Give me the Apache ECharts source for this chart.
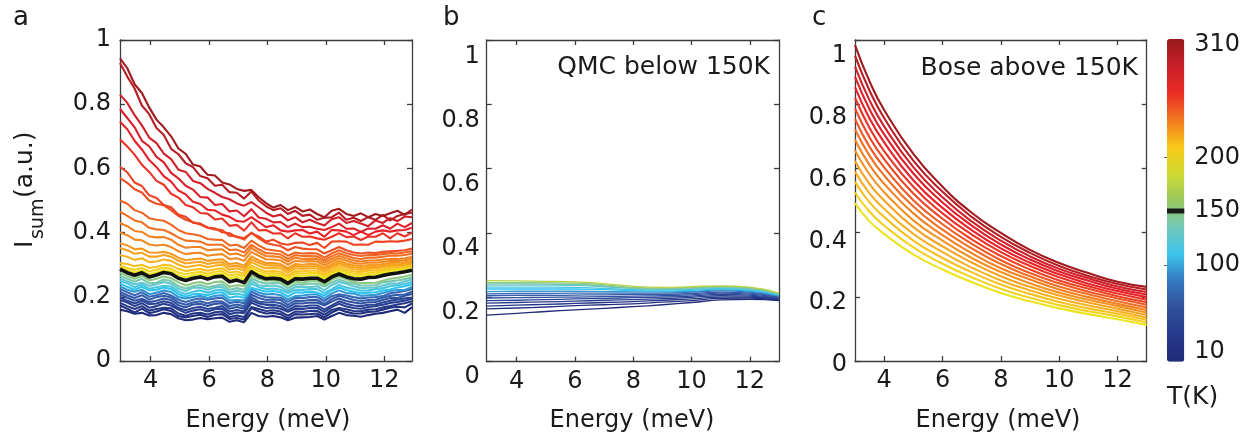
<!DOCTYPE html>
<html><head><meta charset="utf-8">
<script src="https://cdn.jsdelivr.net/npm/echarts@6/dist/echarts.min.js"></script>
<style>html,body{margin:0;padding:0;background:#fff}#c{width:1256px;height:442px}</style>
</head><body><div id="c"></div>
<script>
// ---------- data ----------
const energyA = [2.95,3.2,3.45,3.7,3.95,4.2,4.45,4.7,4.95,5.2,5.45,5.7,5.95,6.2,6.45,6.7,6.95,7.2,7.45,7.7,7.95,8.2,8.45,8.7,8.95,9.2,9.45,9.7,9.95,10.2,10.45,10.7,10.95,11.2,11.45,11.7,11.95,12.2,12.45,12.7,12.95];
const energyB = [2.97,4,5,6,7,8,9,10,11,12,13];
const energyC = [3,3.5,4,5,6,7,8,9,10,11,12,13];
const energyTicks = [4,6,8,10,12];
const tempTicks = [10,100,150,200,310];
const boundaryTemp = 150;

// panel a : measured I_sum, one array per temperature (K)
const a10  = [.160,.155,.147,.150,.142,.143,.150,.146,.133,.127,.129,.134,.130,.133,.135,.122,.127,.121,.150,.140,.138,.140,.136,.127,.135,.136,.137,.140,.129,.140,.150,.143,.141,.138,.143,.147,.150,.155,.160,.150,.168];
const a20  = [.173,.163,.151,.163,.149,.154,.161,.156,.140,.136,.140,.144,.137,.144,.146,.131,.134,.129,.165,.154,.148,.150,.146,.133,.146,.145,.146,.148,.136,.151,.161,.153,.148,.148,.153,.154,.160,.166,.169,.167,.179];
const a30  = [.181,.171,.162,.171,.157,.162,.166,.164,.148,.141,.148,.150,.145,.152,.154,.137,.142,.137,.168,.162,.156,.158,.154,.141,.154,.153,.156,.156,.144,.159,.165,.161,.156,.155,.160,.161,.167,.171,.176,.180,.186];
const a40  = [.190,.182,.171,.180,.166,.171,.178,.173,.160,.150,.157,.161,.154,.161,.163,.146,.151,.149,.182,.171,.165,.167,.163,.153,.163,.162,.165,.165,.153,.168,.178,.170,.165,.163,.168,.171,.175,.181,.184,.188,.194];
const a50  = [.198,.188,.179,.188,.177,.179,.186,.181,.165,.158,.165,.169,.162,.166,.171,.154,.159,.154,.190,.179,.175,.175,.171,.158,.171,.170,.173,.173,.161,.173,.186,.178,.173,.171,.175,.176,.182,.188,.191,.195,.197];
const a60  = [.207,.197,.188,.194,.183,.188,.195,.190,.174,.167,.176,.178,.171,.178,.180,.163,.168,.163,.199,.185,.182,.184,.180,.167,.180,.179,.182,.182,.173,.185,.195,.187,.182,.179,.183,.184,.190,.196,.196,.203,.209];
const a70  = [.215,.205,.196,.205,.191,.199,.203,.198,.182,.175,.182,.186,.179,.186,.185,.171,.176,.171,.207,.196,.190,.192,.190,.175,.188,.187,.190,.190,.178,.193,.203,.197,.190,.187,.190,.191,.197,.203,.206,.207,.216];
const a80  = [.224,.214,.205,.214,.200,.205,.212,.204,.191,.184,.191,.195,.191,.195,.197,.180,.185,.180,.216,.205,.199,.198,.197,.184,.197,.196,.199,.199,.187,.202,.208,.204,.199,.195,.198,.199,.202,.211,.214,.218,.224];
const a90  = [.232,.222,.216,.222,.208,.213,.220,.215,.199,.195,.199,.203,.196,.203,.205,.188,.190,.188,.224,.213,.207,.209,.205,.192,.202,.204,.207,.207,.195,.210,.220,.212,.210,.203,.205,.206,.212,.218,.221,.221,.231];
const a100 = [.241,.231,.222,.231,.220,.222,.229,.224,.208,.201,.208,.209,.205,.212,.214,.197,.202,.197,.228,.222,.216,.218,.214,.201,.214,.213,.216,.213,.204,.219,.229,.221,.216,.211,.213,.214,.220,.223,.229,.233,.239];
const a110 = [.249,.242,.230,.239,.225,.230,.234,.232,.216,.209,.216,.220,.213,.220,.222,.208,.210,.205,.241,.230,.224,.226,.222,.212,.222,.221,.224,.224,.212,.224,.237,.229,.224,.219,.220,.224,.227,.233,.236,.240,.246];
const a120 = [.258,.248,.239,.244,.234,.239,.246,.241,.225,.218,.228,.229,.222,.229,.231,.214,.219,.214,.250,.236,.233,.235,.231,.218,.231,.230,.230,.233,.221,.236,.246,.241,.233,.227,.228,.229,.235,.241,.241,.248,.254];
const a130 = [.266,.256,.247,.256,.242,.244,.254,.249,.233,.226,.233,.237,.230,.234,.239,.222,.227,.222,.258,.247,.241,.243,.242,.226,.239,.238,.241,.241,.232,.244,.254,.246,.241,.235,.235,.236,.245,.248,.251,.255,.261];
const a140 = [.275,.265,.256,.265,.251,.256,.263,.258,.245,.235,.242,.246,.239,.246,.248,.231,.236,.234,.267,.256,.250,.252,.248,.235,.248,.244,.250,.250,.238,.253,.263,.255,.247,.243,.243,.244,.250,.256,.259,.263,.269];
const a150 = [.286,.275,.267,.275,.262,.268,.276,.272,.258,.251,.258,.262,.255,.262,.264,.247,.252,.244,.278,.264,.256,.258,.255,.242,.256,.255,.258,.258,.247,.262,.271,.262,.256,.255,.260,.261,.266,.271,.274,.278,.283];
const a160 = [.290,.283,.276,.282,.270,.276,.283,.279,.267,.261,.267,.270,.264,.270,.272,.257,.262,.255,.284,.272,.265,.266,.264,.252,.265,.264,.267,.267,.257,.270,.278,.270,.265,.264,.268,.270,.274,.278,.281,.285,.289];
const a170 = [.297,.290,.284,.290,.279,.284,.291,.287,.276,.270,.275,.278,.272,.278,.280,.266,.270,.263,.290,.280,.272,.273,.271,.259,.273,.272,.274,.274,.264,.276,.284,.277,.272,.270,.274,.276,.280,.284,.287,.290,.294];
const a180 = [.305,.302,.295,.300,.290,.293,.300,.297,.287,.280,.284,.287,.281,.286,.289,.275,.279,.271,.297,.287,.279,.280,.278,.266,.280,.279,.281,.281,.270,.282,.291,.284,.279,.277,.281,.282,.286,.290,.292,.295,.298];
const a190 = [.330,.325,.315,.320,.308,.310,.316,.312,.300,.292,.296,.299,.292,.297,.300,.285,.289,.281,.308,.297,.289,.290,.288,.275,.289,.287,.289,.289,.277,.290,.299,.292,.286,.284,.287,.288,.292,.295,.297,.299,.302];
const a200 = [.352,.345,.334,.337,.325,.325,.330,.325,.312,.304,.307,.309,.302,.306,.308,.294,.297,.290,.317,.306,.298,.298,.296,.283,.296,.294,.295,.295,.284,.296,.305,.298,.292,.290,.293,.293,.297,.300,.301,.303,.306];
const a205 = [.367,.360,.348,.350,.338,.337,.340,.334,.322,.314,.317,.319,.312,.315,.317,.302,.305,.297,.326,.314,.305,.305,.302,.289,.302,.300,.302,.301,.290,.302,.312,.304,.298,.296,.299,.299,.302,.305,.306,.308,.311];
const a215 = [.400,.392,.378,.376,.363,.360,.362,.355,.342,.333,.336,.337,.328,.331,.333,.318,.320,.312,.340,.328,.317,.316,.313,.300,.312,.310,.311,.310,.298,.310,.320,.312,.305,.303,.306,.306,.309,.311,.312,.314,.318];
const a220 = [.430,.420,.405,.402,.388,.385,.386,.378,.362,.353,.355,.355,.345,.347,.348,.332,.335,.326,.352,.338,.327,.326,.323,.310,.322,.318,.319,.318,.306,.318,.328,.320,.313,.310,.313,.313,.316,.318,.318,.320,.324];
const a230 = [.465,.452,.438,.432,.415,.410,.408,.398,.385,.375,.374,.372,.362,.362,.362,.346,.347,.338,.362,.348,.336,.335,.332,.318,.330,.327,.327,.326,.314,.326,.336,.328,.321,.318,.322,.322,.325,.328,.328,.330,.334];
const a235 = [.500,.490,.470,.462,.445,.440,.437,.425,.408,.398,.395,.390,.380,.378,.377,.360,.362,.352,.375,.360,.348,.345,.342,.328,.338,.335,.336,.335,.322,.335,.345,.336,.330,.327,.330,.330,.333,.336,.335,.338,.342];
const a245 = [.570,.555,.535,.525,.500,.490,.485,.470,.452,.440,.432,.425,.415,.410,.408,.390,.388,.378,.400,.382,.368,.362,.358,.345,.355,.350,.348,.348,.335,.345,.355,.345,.338,.335,.338,.336,.340,.342,.343,.345,.350];
const a250 = [.605,.588,.556,.545,.516,.508,.486,.479,.456,.449,.431,.428,.416,.413,.401,.398,.386,.383,.398,.388,.372,.378,.366,.362,.368,.369,.361,.368,.352,.372,.373,.372,.362,.363,.362,.372,.371,.373,.372,.375,.380];
const a260 = [.690,.668,.643,.611,.589,.561,.549,.521,.509,.486,.479,.461,.459,.441,.444,.421,.424,.406,.432,.407,.408,.397,.398,.382,.398,.387,.388,.382,.378,.387,.398,.386,.388,.377,.388,.387,.398,.382,.398,.388,.400];
const a270 = [.745,.722,.686,.659,.626,.604,.576,.559,.531,.519,.496,.489,.471,.469,.456,.449,.436,.434,.448,.433,.417,.423,.407,.403,.407,.408,.397,.403,.387,.408,.407,.403,.392,.403,.392,.403,.407,.403,.407,.408,.415];
const a280 = [.785,.757,.728,.686,.669,.636,.619,.586,.569,.546,.534,.511,.509,.486,.489,.466,.469,.451,.473,.447,.443,.432,.433,.417,.428,.417,.418,.412,.408,.417,.428,.412,.413,.402,.413,.412,.423,.412,.428,.417,.430];
const a290 = [.830,.804,.766,.734,.696,.679,.646,.629,.596,.589,.561,.554,.536,.524,.511,.504,.491,.484,.495,.479,.462,.450,.456,.438,.448,.432,.440,.430,.422,.442,.448,.430,.436,.428,.420,.438,.430,.445,.436,.450,.448];
const a300 = [.928,.886,.849,.796,.769,.726,.704,.661,.644,.616,.604,.576,.569,.546,.549,.526,.524,.506,.528,.500,.482,.470,.476,.458,.468,.452,.456,.440,.446,.448,.462,.440,.446,.436,.448,.440,.455,.438,.452,.458,.462];
const a310 = [.943,.912,.862,.835,.790,.752,.728,.700,.662,.645,.612,.606,.580,.578,.556,.550,.536,.530,.533,.510,.492,.478,.486,.470,.480,.466,.472,.458,.448,.468,.474,.458,.452,.460,.448,.458,.452,.460,.468,.455,.472];

// panel b : QMC below 150 K
const b10  = [.145,.150,.156,.161,.166,.171,.177,.184,.192,.194,.190];
const b20  = [.164,.167,.170,.174,.177,.180,.185,.190,.197,.198,.191];
const b30  = [.173,.176,.178,.181,.184,.187,.191,.195,.201,.201,.193];
const b40  = [.182,.184,.186,.188,.191,.193,.196,.200,.205,.204,.195];
const b50  = [.190,.191,.193,.195,.197,.199,.201,.204,.209,.207,.197];
const b60  = [.198,.199,.200,.201,.202,.204,.205,.208,.213,.210,.199];
const b70  = [.205,.206,.206,.207,.208,.209,.209,.212,.216,.213,.201];
const b80  = [.211,.212,.212,.213,.213,.213,.213,.216,.220,.216,.203];
const b90  = [.218,.219,.219,.219,.218,.217,.217,.219,.223,.219,.205];
const b100 = [.226,.226,.226,.226,.224,.221,.220,.222,.226,.222,.207];
const b110 = [.232,.232,.232,.231,.228,.224,.223,.225,.228,.224,.209];
const b120 = [.238,.238,.238,.237,.233,.227,.225,.227,.230,.226,.210];
const b130 = [.242,.242,.241,.240,.236,.229,.227,.229,.232,.228,.211];
const b140 = [.246,.246,.245,.244,.239,.231,.229,.231,.234,.230,.212];
const b150 = [.252,.251,.250,.248,.243,.234,.231,.233,.236,.232,.213];

// panel c : Bose above 150 K
const c160 = [.492,.435,.396,.332,.285,.246,.212,.186,.164,.146,.130,.112];
const c170 = [.525,.465,.422,.354,.303,.261,.225,.197,.174,.155,.139,.120];
const c180 = [.558,.494,.449,.375,.321,.277,.238,.209,.184,.164,.147,.128];
const c190 = [.590,.522,.474,.396,.339,.291,.251,.220,.194,.173,.155,.135];
const c200 = [.623,.551,.500,.417,.357,.307,.264,.231,.204,.182,.163,.143];
const c210 = [.656,.581,.526,.438,.375,.321,.277,.242,.213,.191,.171,.151];
const c220 = [.689,.610,.552,.460,.392,.336,.289,.254,.223,.199,.178,.159];
const c230 = [.722,.639,.578,.481,.409,.351,.302,.264,.232,.208,.186,.167];
const c240 = [.754,.667,.603,.501,.426,.365,.314,.274,.242,.216,.195,.175];
const c250 = [.787,.696,.629,.522,.443,.379,.327,.285,.251,.225,.202,.183];
const c260 = [.820,.726,.654,.543,.460,.394,.339,.296,.261,.233,.210,.191];
const c270 = [.853,.755,.681,.563,.477,.408,.351,.306,.270,.241,.218,.199];
const c280 = [.886,.784,.706,.584,.494,.422,.363,.316,.279,.250,.225,.207];
const c290 = [.918,.812,.731,.604,.510,.435,.375,.326,.287,.258,.232,.215];
const c300 = [.951,.842,.757,.624,.527,.449,.387,.337,.296,.265,.240,.223];
const c310 = [.984,.871,.782,.645,.543,.462,.399,.346,.305,.274,.247,.231];

const panelA = [[10,a10],[20,a20],[30,a30],[40,a40],[50,a50],[60,a60],[70,a70],[80,a80],[90,a90],[100,a100],[110,a110],[120,a120],[130,a130],[140,a140],
  [160,a160],[170,a170],[180,a180],[190,a190],[200,a200],[205,a205],[215,a215],[220,a220],[230,a230],[235,a235],[245,a245],[250,a250],[260,a260],[270,a270],[280,a280],[290,a290],[300,a300],[310,a310]];
const panelB = [[10,b10],[20,b20],[30,b30],[40,b40],[50,b50],[60,b60],[70,b70],[80,b80],[90,b90],[100,b100],[110,b110],[120,b120],[130,b130],[140,b140],[150,b150]];
const panelC = [[160,c160],[170,c170],[180,c180],[190,c190],[200,c200],[210,c210],[220,c220],[230,c230],[240,c240],[250,c250],[260,c260],[270,c270],[280,c280],[290,c290],[300,c300],[310,c310]];

// ---------- styles ----------
const lineStops = [[10,'#1f2a78'],[50,'#2b4496'],[80,'#3a68b4'],[100,'#2ec4f0'],[125,'#6ec8c8'],[140,'#8cc880'],[150,'#b8d448'],[160,'#ece41c'],[180,'#f8c020'],[205,'#f59a20'],[230,'#f07024'],[250,'#ee4424'],[270,'#e82028'],[290,'#d0202a'],[310,'#a01a1e']];
const barColors = ['#1f2a78','#27398c','#305099','#3678bf','#3cc4ec','#72c8b8','#98c860','#d0da30','#f8c81a','#f27822','#ea2c26','#c81f28','#961a1c'];
const FONT = 'DejaVu Sans';
const AX = '#3c3c3c';
const TXT = '#1a1a1a';

function hex(c){return [parseInt(c.slice(1,3),16),parseInt(c.slice(3,5),16),parseInt(c.slice(5,7),16)];}
function lineColor(T){
  for(let i=0;i<lineStops.length-1;i++){
    const [t0,c0]=lineStops[i],[t1,c1]=lineStops[i+1];
    if(T<=t1){const f=(T-t0)/(t1-t0),a=hex(c0),b=hex(c1);
      return 'rgb('+a.map((v,j)=>Math.round(v+(b[j]-v)*f)).join(',')+')';}
  }
  return lineStops[lineStops.length-1][1];
}

const grids = [
  {left:120, top:40, width:292, height:321},
  {left:486.7, top:40, width:292.3, height:321.7},
  {left:855, top:40, width:291.7, height:321},
  {left:486.7, top:56.7, width:292.3, height:320},
  {left:855, top:55.7, width:291.7, height:309.3},
  {left:1167, top:39, width:17.3, height:322.7}
];

const lbl = {fontSize:24, fontFamily:FONT, color:TXT};
function xPair(gi,min,max){
  const line={show:true,onZero:false,lineStyle:{color:AX,width:1.3}};
  const tick={show:true,inside:true,length:5,customValues:energyTicks,lineStyle:{color:AX,width:1.3}};
  return [
    {type:'value',gridIndex:gi,min,max,position:'bottom',axisLine:line,axisTick:tick,
      axisLabel:Object.assign({show:true,customValues:energyTicks,margin:8},lbl),splitLine:{show:false}},
    {type:'value',gridIndex:gi,min,max,position:'top',axisLine:line,axisTick:tick,axisLabel:{show:false},splitLine:{show:false}}
  ];
}
function yPair(gi,showLabel){
  const line={show:true,onZero:false,lineStyle:{color:AX,width:1.3}};
  const tick={show:true,inside:true,length:5,lineStyle:{color:AX,width:1.3}};
  return [
    {type:'value',gridIndex:gi,min:0,max:1,interval:0.2,position:'left',axisLine:line,axisTick:tick,
      axisLabel:Object.assign({show:showLabel,margin:9},lbl),splitLine:{show:false}},
    {type:'value',gridIndex:gi,min:0,max:1,interval:0.2,position:'right',axisLine:line,axisTick:tick,axisLabel:{show:false},splitLine:{show:false}}
  ];
}
const xAxes = [...xPair(0,2.95,12.95),...xPair(1,2.97,13),...xPair(2,3,13),
  {type:'value',gridIndex:3,min:0,max:1,show:false},
  {type:'value',gridIndex:4,min:0,max:1,show:false},
  {type:'value',gridIndex:5,min:0,max:1,show:false}];
const yAxes = [...yPair(0,true),...yPair(1,false),...yPair(2,false),
  {type:'value',gridIndex:3,min:0,max:1,interval:0.2,axisLine:{show:false},axisTick:{show:false},splitLine:{show:false},axisLabel:Object.assign({margin:7},lbl)},
  {type:'value',gridIndex:4,min:0,max:1,interval:0.2,axisLine:{show:false},axisTick:{show:false},splitLine:{show:false},axisLabel:Object.assign({margin:8},lbl)},
  {type:'value',gridIndex:5,min:10,max:310,position:'right',axisLine:{show:false},
    axisTick:{show:true,inside:true,length:3,customValues:[100,200],lineStyle:{color:'#666',width:1}},
    splitLine:{show:false},
    axisLabel:Object.assign({margin:10,customValues:tempTicks,
      formatter:v=> v===310?'{hi|310}':(v===10?'{lo|10}':String(v)),
      rich:{hi:{fontSize:24,fontFamily:FONT,color:TXT,padding:[12,0,0,0]},lo:{fontSize:24,fontFamily:FONT,color:TXT,padding:[0,0,20,0]}}},lbl)}
];

const series = [];
function addPanel(list,energy,xi,yi,width,smooth){
  list.forEach(([T,vals])=>{
    series.push({type:'line',xAxisIndex:xi,yAxisIndex:yi,data:energy.map((x,i)=>[x,vals[i]]),
      showSymbol:false,symbol:'none',smooth:smooth,silent:true,z:2,
      lineStyle:{width:width,color:lineColor(T),join:'round'}});
  });
}
addPanel(panelA,energyA,0,0,2.1,false);
series.push({type:'line',xAxisIndex:0,yAxisIndex:0,data:energyA.map((x,i)=>[x,a150[i]]),showSymbol:false,symbol:'none',silent:true,z:3,
  lineStyle:{width:3.6,color:'#111',join:'round'}});
addPanel(panelB,energyB,2,2,1.3,0.5);
addPanel(panelC,energyC,4,4,2.1,0.5);
series.push({type:'line',xAxisIndex:8,yAxisIndex:8,data:[[0,boundaryTemp],[1,boundaryTemp]],showSymbol:false,symbol:'none',silent:true,z:20,
  lineStyle:{width:5,color:'#1a1a1a'}});
series.push({type:'scatter',xAxisIndex:8,yAxisIndex:8,data:[],silent:true});
const dummyIdx = series.length-1;

const tx = (text,x,y,size,align)=>({type:'text',x,y,silent:true,style:{text,fontSize:size,fontFamily:FONT,fill:TXT,align:align||'left',verticalAlign:'middle'}});

const option = {
  animation:false,
  backgroundColor:'#fff',
  grid:grids,
  xAxis:xAxes,
  yAxis:yAxes,
  visualMap:{type:'continuous',min:10,max:310,seriesIndex:dummyIdx,left:1167,top:39,itemWidth:17.3,itemHeight:322.7,
    padding:0,calculable:false,hoverLink:false,text:null,showLabel:false,z:1,inRange:{color:barColors}},
  series,
  graphic:[
    tx('a',13,18.5,26), tx('b',443,18.5,26), tx('c',812,18.5,26),
    tx('QMC below 150K',770,67.5,25,'right'),
    tx('Bose above 150K',1138,68,25,'right'),
    tx('Energy (meV)',268,421,24,'center'),
    tx('Energy (meV)',632,421,24,'center'),
    tx('Energy (meV)',998,421,24,'center'),
    tx('T(K)',1167,397,25),
    {type:'group',x:25,y:248,rotation:Math.PI/2,silent:true,children:[
      {type:'text',x:0,y:0,style:{text:'I',fontSize:25,fontFamily:FONT,fill:TXT,align:'left',verticalAlign:'middle'}},
      {type:'text',x:9,y:13,style:{text:'sum',fontSize:19,fontFamily:FONT,fill:TXT,align:'left',verticalAlign:'middle'}},
      {type:'text',x:50,y:0,style:{text:'(a.u.)',fontSize:25,fontFamily:FONT,fill:TXT,align:'left',verticalAlign:'middle'}}
    ]}
  ]
};
const chart = echarts.init(document.getElementById('c'),null,{renderer:'canvas'});
chart.setOption(option);
</script></body></html>
